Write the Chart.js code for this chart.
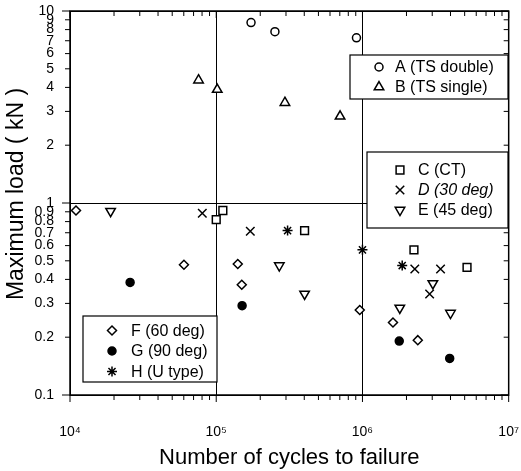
<!DOCTYPE html>
<html>
<head>
<meta charset="utf-8">
<script src="https://cdn.jsdelivr.net/npm/chart.js"></script>
<style>
  html, body { margin: 0; padding: 0; background: #fff; }
  #chart { display: block; }
</style>
</head>
<body>
<canvas id="chart" width="521" height="471"></canvas>
<script>
// Number of cycles to failure (x) and maximum load in kN (y), one pair of arrays per specimen type
const aCycles = [173000, 252000, 910000];
const aLoad = [8.7, 7.8, 7.25];
const bCycles = [75700, 101600, 295000, 703000];
const bLoad = [4.36, 3.9, 3.33, 2.83];
const cCycles = [100000, 111000, 402000, 2250000, 5190000];
const cLoad = [0.82, 0.914, 0.718, 0.57, 0.462];
const dCycles = [80300, 171000, 2280000, 3420000, 2880000];
const dLoad = [0.885, 0.713, 0.453, 0.453, 0.336];
const eCycles = [18950, 270000, 402000, 3030000, 1800000, 4000000];
const eLoad = [0.906, 0.472, 0.336, 0.381, 0.284, 0.267];
const fCycles = [10990, 60150, 140400, 149500, 958600, 1617000, 2390000];
const fLoad = [0.914, 0.477, 0.481, 0.375, 0.277, 0.2385, 0.193];
const gCycles = [25770, 150300, 1785000, 3950000];
const gLoad = [0.386, 0.292, 0.191, 0.155];
const hCycles = [307600, 1000000, 1870000];
const hLoad = [0.718, 0.57, 0.472];

const seriesLabels = ['A (TS double)', 'B (TS single)', 'C (CT)', 'D (30 deg)', 'E (45 deg)',
                      'F (60 deg)', 'G (90 deg)', 'H (U type)'];

// tick positions on the two log axes
const xTickValues = [1e4, 2e4, 3e4, 4e4, 5e4, 6e4, 7e4, 8e4, 9e4,
                     1e5, 2e5, 3e5, 4e5, 5e5, 6e5, 7e5, 8e5, 9e5,
                     1e6, 2e6, 3e6, 4e6, 5e6, 6e6, 7e6, 8e6, 9e6, 1e7];
const yTickValues = [0.1, 0.2, 0.3, 0.4, 0.5, 0.6, 0.7, 0.8, 0.9,
                     1, 2, 3, 4, 5, 6, 7, 8, 9, 10];

const FONT = "'Liberation Sans', Arial, Helvetica, sans-serif";
const SUP = { 4: '\u2074', 5: '\u2075', 6: '\u2076', 7: '\u2077' };

function isDecade(v) {
    const l = Math.log10(v);
    return Math.abs(l - Math.round(l)) < 1e-9;
}

function toPoints(xs, ys) {
    return xs.map((x, i) => ({ x: x, y: ys[i] }));
}

function makeSet(label, xs, ys, style) {
    return Object.assign({
        label: label,
        data: toPoints(xs, ys),
        showLine: false,
        borderColor: '#000',
        backgroundColor: '#fff',
        pointBorderWidth: 1.5
    }, style);
}

const datasets = [
    makeSet(seriesLabels[0], aCycles, aLoad, { pointStyle: 'circle', pointRadius: 4 }),
    makeSet(seriesLabels[1], bCycles, bLoad, { pointStyle: 'triangle', pointRadius: 5.5 }),
    makeSet(seriesLabels[2], cCycles, cLoad, { pointStyle: 'rect', pointRadius: 5.5 }),
    makeSet(seriesLabels[3], dCycles, dLoad, { pointStyle: 'crossRot', pointRadius: 6 }),
    makeSet(seriesLabels[4], eCycles, eLoad, { pointStyle: 'triangle', pointRadius: 5.5, pointRotation: 180 }),
    makeSet(seriesLabels[5], fCycles, fLoad, { pointStyle: 'rectRot', pointRadius: 4.5 }),
    makeSet(seriesLabels[6], gCycles, gLoad, { pointStyle: 'circle', pointRadius: 4, backgroundColor: '#000' }),
    makeSet(seriesLabels[7], hCycles, hLoad, { pointStyle: 'star', pointRadius: 5 })
];

// three separate legend boxes inside the plot
const legendBoxes = [
    { x: 350, y: 55, w: 158, h: 44, symX: 379, textX: 395, rows: [0, 1], rowY: [67, 87] },
    { x: 367, y: 152, w: 141, h: 76, symX: 400, textX: 418, rows: [2, 3, 4], rowY: [170, 190, 210] },
    { x: 83, y: 316, w: 134, h: 66, symX: 112, textX: 131, rows: [5, 6, 7], rowY: [330.5, 351, 371.5] }
];
const italicLabels = ['D (30 deg)'];

function drawSymbol(ctx, ds, x, y) {
    ctx.save();
    ctx.strokeStyle = ds.borderColor;
    ctx.fillStyle = ds.backgroundColor;
    ctx.lineWidth = ds.pointBorderWidth;
    if (Chart.helpers && Chart.helpers.drawPoint) {
        Chart.helpers.drawPoint(ctx, {
            pointStyle: ds.pointStyle,
            rotation: ds.pointRotation || 0,
            radius: ds.pointRadius,
            borderWidth: ds.pointBorderWidth
        }, x, y);
    }
    ctx.restore();
}

const frameAndLegends = {
    id: 'frameAndLegends',
    afterDraw(chart) {
        const ctx = chart.ctx;
        const a = chart.chartArea;
        const xs = chart.scales.x;
        const ys = chart.scales.y;
        ctx.save();
        ctx.strokeStyle = '#000';
        ctx.lineWidth = 1.5;
        ctx.strokeRect(a.left, a.top, a.right - a.left, a.bottom - a.top);

        // ticks: outward on left/bottom, inward on top/right
        ctx.lineWidth = 1;
        ctx.beginPath();
        xs.ticks.forEach(t => {
            const px = xs.getPixelForValue(t.value);
            const len = isDecade(t.value) ? 7 : 5;
            ctx.moveTo(px, a.top);
            ctx.lineTo(px, a.top + len);
            ctx.moveTo(px, a.bottom);
            ctx.lineTo(px, a.bottom + len);
        });
        ys.ticks.forEach(t => {
            const py = ys.getPixelForValue(t.value);
            const len = isDecade(t.value) ? 8 : 5;
            ctx.moveTo(a.right, py);
            ctx.lineTo(a.right - len, py);
            ctx.moveTo(a.left, py);
            ctx.lineTo(a.left - len, py);
        });
        ctx.stroke();

        // y axis title
        ctx.save();
        ctx.translate(17, 194);
        ctx.rotate(-Math.PI / 2);
        ctx.fillStyle = '#000';
        ctx.font = '23px ' + FONT;
        ctx.textAlign = 'center';
        ctx.textBaseline = 'middle';
        ctx.fillText('Maximum load ( kN )', 0, 0);
        ctx.restore();

        // legends
        legendBoxes.forEach(box => {
            ctx.fillStyle = '#fff';
            ctx.fillRect(box.x, box.y, box.w, box.h);
            ctx.lineWidth = 1.2;
            ctx.strokeStyle = '#000';
            ctx.strokeRect(box.x, box.y, box.w, box.h);
            box.rows.forEach((idx, i) => {
                const ds = chart.data.datasets[idx];
                drawSymbol(ctx, ds, box.symX, box.rowY[i]);
                ctx.fillStyle = '#000';
                ctx.textBaseline = 'middle';
                ctx.textAlign = 'left';
                const italic = italicLabels.includes(ds.label) ? 'italic ' : '';
                ctx.font = italic + '16px ' + FONT;
                ctx.fillText(ds.label, box.textX, box.rowY[i] + 1);
            });
        });
        ctx.restore();
    }
};

const gridColor = c => (c.tick && isDecade(c.tick.value)) ? '#000' : 'rgba(0,0,0,0)';

new Chart(document.getElementById('chart'), {
    type: 'scatter',
    data: { datasets: datasets },
    plugins: [frameAndLegends],
    options: {
        responsive: false,
        animation: false,
        devicePixelRatio: 1,
        events: [],
        layout: { padding: { left: 0, right: 11, top: 11, bottom: 0 } },
        plugins: {
            legend: { display: false },
            tooltip: { enabled: false }
        },
        scales: {
            x: {
                type: 'logarithmic',
                position: 'bottom',
                min: 1e4,
                max: 1e7,
                afterBuildTicks: scale => { scale.ticks = xTickValues.map(v => ({ value: v })); },
                afterFit: scale => { scale.height = 76; },
                border: { display: false },
                grid: { color: gridColor, lineWidth: 1, tickColor: 'rgba(0,0,0,0)', tickLength: 27 },
                ticks: {
                    autoSkip: false,
                    maxRotation: 0,
                    padding: 2,
                    color: '#000',
                    font: { family: FONT, size: 14 },
                    callback: v => isDecade(v) ? '10' + SUP[Math.round(Math.log10(v))] : ''
                },
                title: {
                    display: true,
                    text: 'Number of cycles to failure',
                    color: '#000',
                    font: { family: FONT, size: 22 },
                    padding: 0
                }
            },
            y: {
                type: 'logarithmic',
                position: 'left',
                min: 0.1,
                max: 10,
                afterBuildTicks: scale => { scale.ticks = yTickValues.map(v => ({ value: v })); },
                afterFit: scale => { scale.width = 70; },
                border: { display: false },
                grid: { color: gridColor, lineWidth: 1, tickColor: 'rgba(0,0,0,0)', tickLength: 14 },
                ticks: {
                    autoSkip: false,
                    padding: 2,
                    color: '#000',
                    font: { family: FONT, size: 14 },
                    callback: v => String(v)
                },
                title: { display: false }
            }
        }
    }
});
</script>
</body>
</html>
